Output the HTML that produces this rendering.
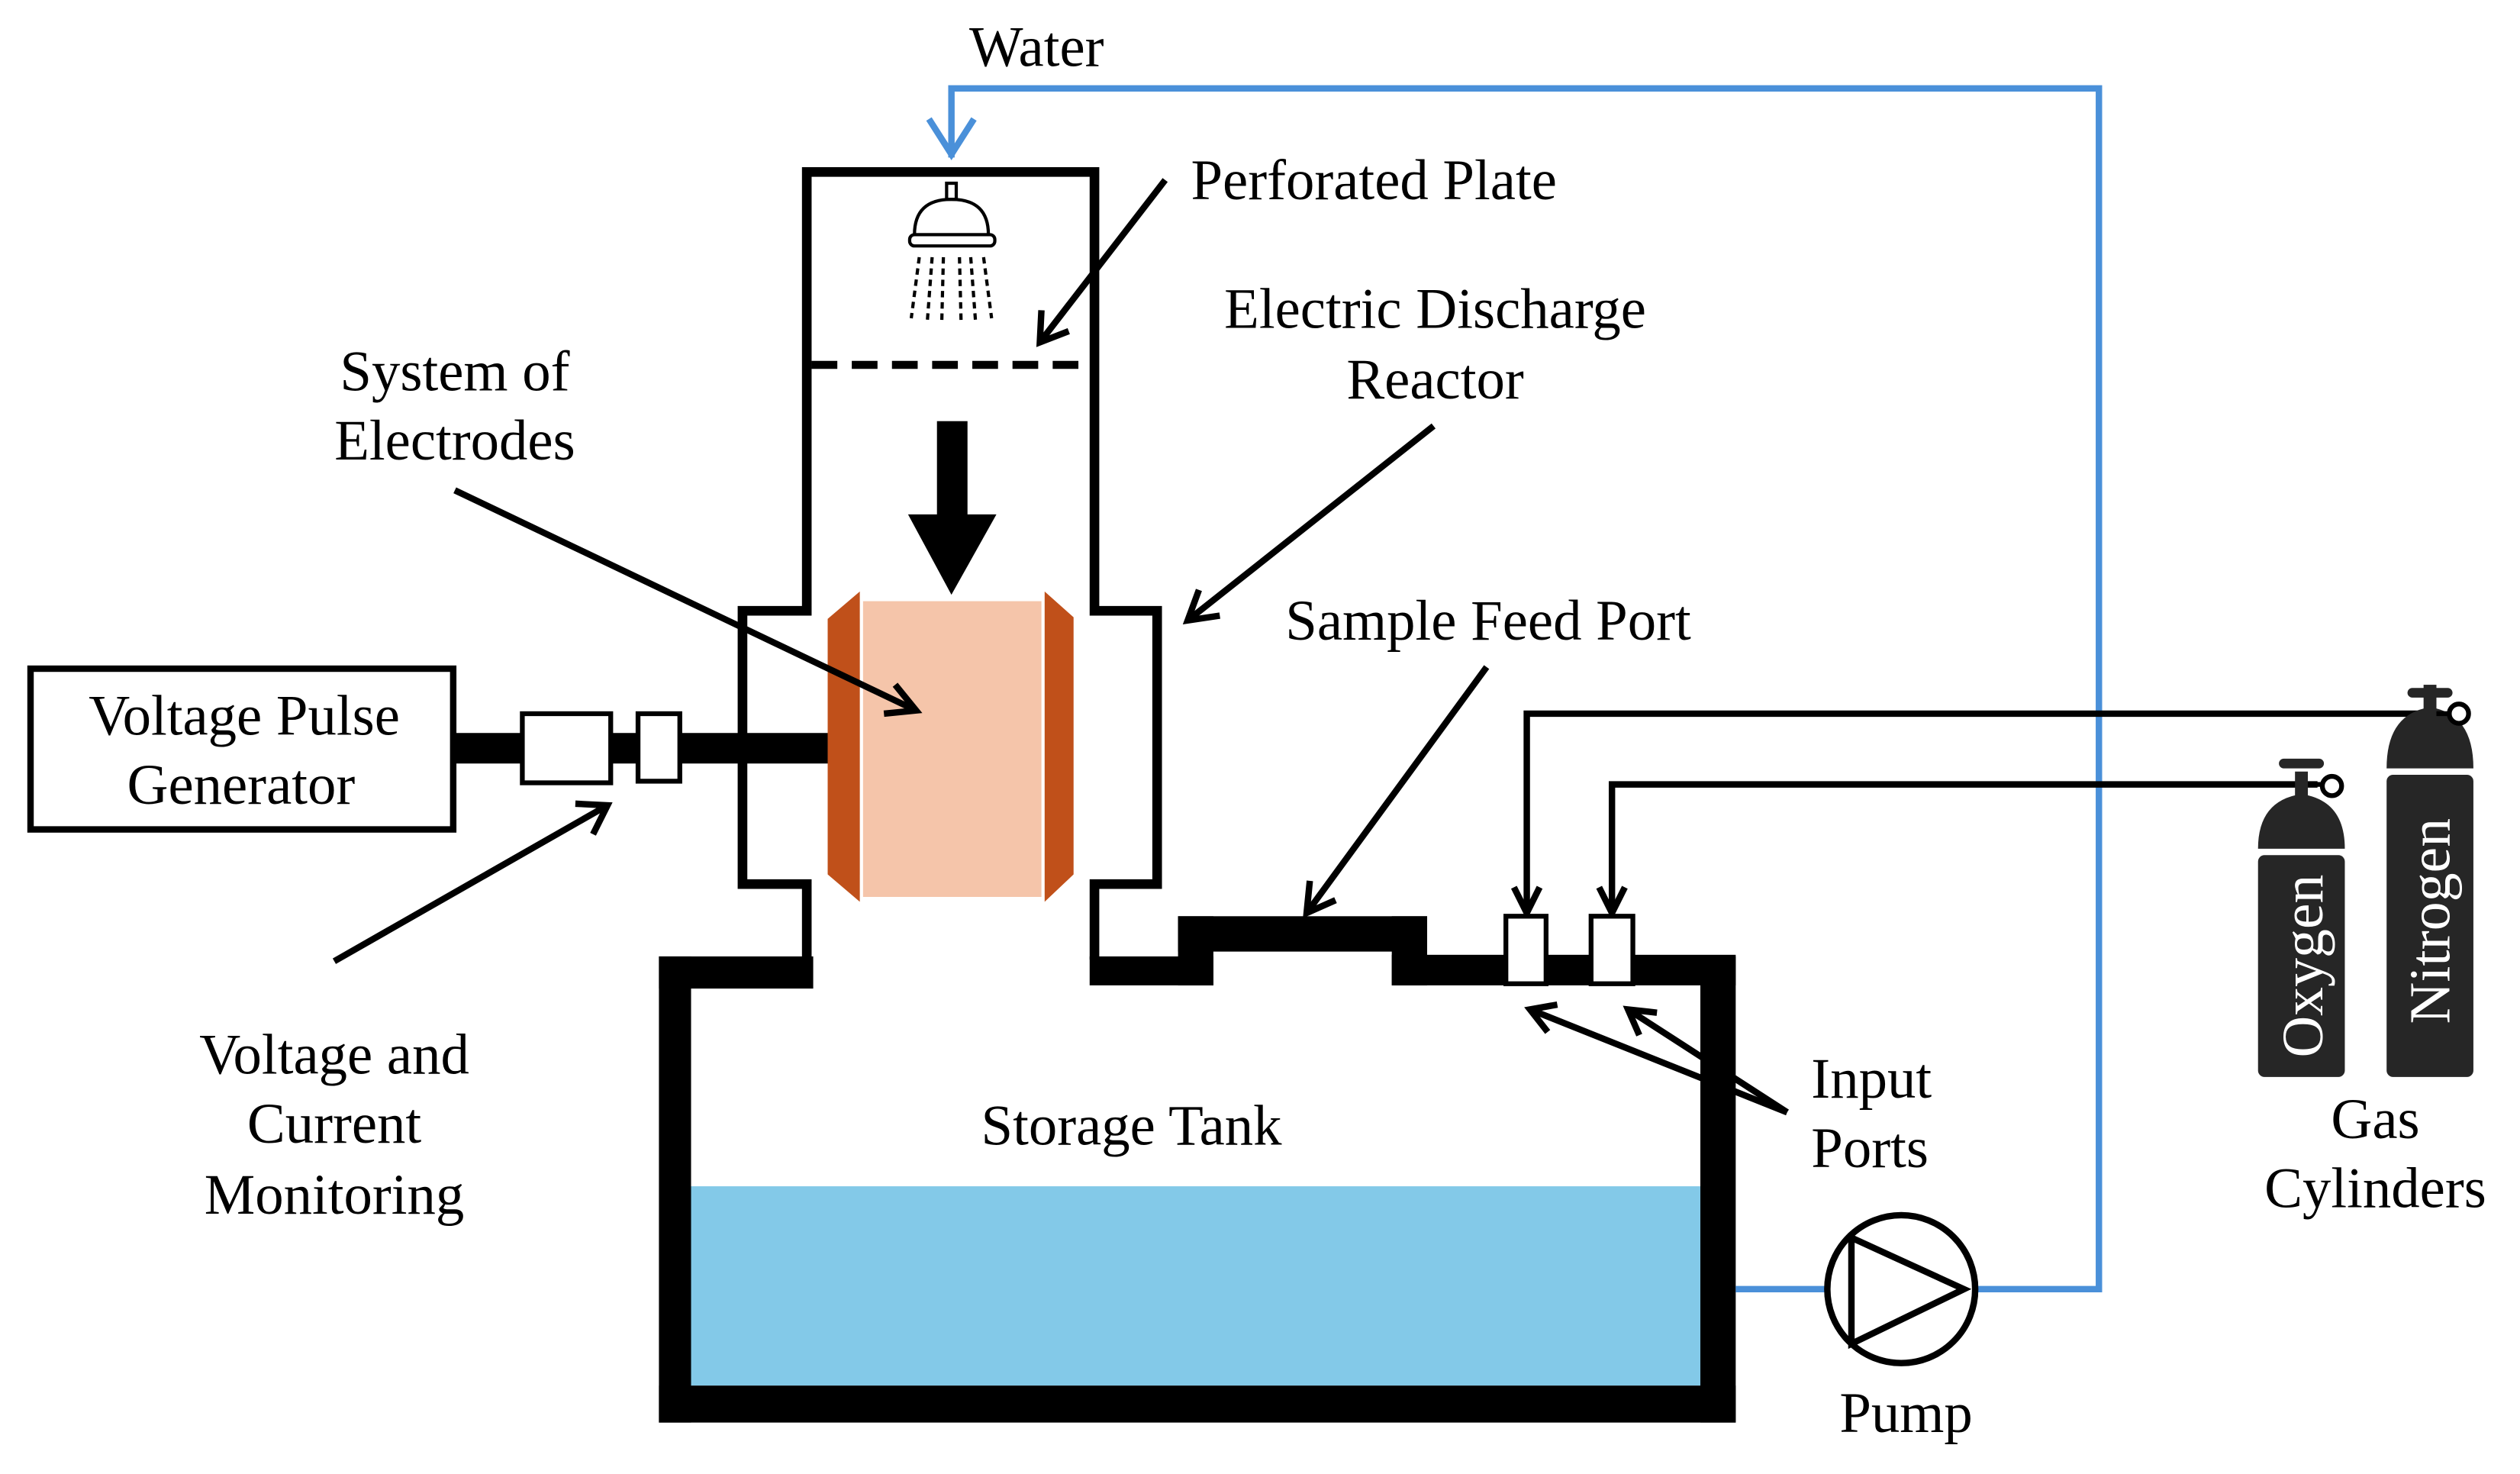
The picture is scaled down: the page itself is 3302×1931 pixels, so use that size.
<!DOCTYPE html>
<html><head><meta charset="utf-8"><style>
html,body{margin:0;padding:0;background:#fff;}
svg{display:block;}
text{font-family:"Liberation Serif",serif;font-size:35.5px;fill:#000;}
</style></head><body>
<svg width="3302" height="1931" viewBox="0 0 1568 917" preserveAspectRatio="none" xmlns="http://www.w3.org/2000/svg">
<!-- water in tank -->
<rect x="430" y="738" width="628" height="124" fill="#83C9E8"/>
<!-- tank walls -->
<g fill="#000">
<rect x="410" y="595" width="20" height="290"/>
<rect x="410" y="862" width="670" height="23"/>
<rect x="1058" y="595" width="22" height="290"/>
<rect x="410" y="595" width="96" height="20"/>
<rect x="678" y="595" width="77" height="18"/>
<rect x="733" y="570" width="155" height="22"/>
<rect x="733" y="570" width="22" height="43"/>
<rect x="866" y="570" width="22" height="43"/>
<rect x="866" y="594" width="214" height="19"/>
</g>
<!-- reactor outline -->
<path d="M502,597 V550 H462 V380 H502 V107 H681 V380 H720 V550 H681 V597" fill="none" stroke="#000" stroke-width="6"/>
<!-- perforated plate -->
<line x1="505" y1="227" x2="678" y2="227" stroke="#000" stroke-width="5" stroke-dasharray="16,9"/>
<!-- shower head -->
<g fill="none" stroke="#000" stroke-width="2">
<rect x="589" y="114" width="6" height="10" fill="#fff"/>
<path d="M569,146 Q569,124 592,124 Q615,124 615,146 Z"/>
<rect x="566" y="146" width="53" height="7" rx="3"/>
<g stroke-dasharray="4,3">
<line x1="572" y1="160" x2="567" y2="198"/><line x1="580" y1="160" x2="577" y2="200"/>
<line x1="587" y1="160" x2="586" y2="200"/><line x1="597" y1="160" x2="598" y2="200"/>
<line x1="604" y1="160" x2="607" y2="200"/><line x1="612" y1="160" x2="617" y2="198"/>
</g></g>
<!-- down arrow -->
<rect x="583" y="262" width="19" height="60" fill="#000"/>
<polygon points="565,320 620,320 592,370" fill="#000"/>
<!-- electrodes -->
<rect x="537" y="374" width="111" height="184" fill="#F5C5AA"/>
<polygon points="515,385 535,368 535,561 515,544" fill="#C0501A"/>
<polygon points="650,368 668,384 668,544 650,561" fill="#C0501A"/>
<!-- rod and boxes -->
<rect x="283" y="456" width="232" height="19" fill="#000"/>
<rect x="325" y="444" width="55" height="43" fill="#fff" stroke="#000" stroke-width="3"/>
<rect x="397" y="444" width="26" height="42" fill="#fff" stroke="#000" stroke-width="3"/>
<rect x="19" y="416" width="263" height="100" fill="#fff" stroke="#000" stroke-width="4"/>
<text x="152" y="457" text-anchor="middle">Voltage Pulse</text>
<text x="150" y="500" text-anchor="middle">Generator</text>
<!-- blue water loop -->
<polyline points="1080,802 1137,802" fill="none" stroke="#4A90D9" stroke-width="4"/>
<polyline points="1229,802 1306,802 1306,55 592,55 592,98" fill="none" stroke="#4A90D9" stroke-width="4"/>
<polyline points="578,74 592,96 606,74" fill="none" stroke="#4A90D9" stroke-width="4"/>
<text x="645" y="41" text-anchor="middle">Water</text>
<!-- pump -->
<ellipse cx="1183" cy="802" rx="46" ry="46" fill="#fff" stroke="#000" stroke-width="4"/>
<polygon points="1152,770 1152,836 1222,802" fill="none" stroke="#000" stroke-width="4"/>
<text x="1186" y="891" text-anchor="middle">Pump</text>
<!-- pointer arrows -->
<g stroke="#000" stroke-width="4" fill="none">
<line x1="208" y1="598" x2="378" y2="501"/><polyline points="358,500 378,501 369,519"/>
<line x1="283" y1="305" x2="570" y2="442"/><polyline points="557,426 570,442 550,444"/>
<line x1="725" y1="112" x2="647" y2="213"/><polyline points="648,193 647,213 665,206"/>
<line x1="892" y1="265" x2="739" y2="386"/><polyline points="746,367 739,386 759,383"/>
<line x1="925" y1="415" x2="813" y2="568"/><polyline points="815,548 813,568 831,560"/>
<line x1="1112" y1="692" x2="952" y2="628"/><polyline points="963,642 952,628 969,625"/>
<line x1="1112" y1="692" x2="1013" y2="628"/><polyline points="1020,644 1013,628 1031,630"/>
<!-- gas lines -->
<polyline points="950,568 950,444 1518,444"/>
<polyline points="1003,568 1003,488 1442,488"/>
<polyline points="942,552 950,568 958,552"/>
<polyline points="995,552 1003,568 1011,552"/>
</g>
<rect x="937" y="570" width="25" height="42" fill="#fff" stroke="#000" stroke-width="3"/>
<rect x="990" y="570" width="26" height="42" fill="#fff" stroke="#000" stroke-width="3"/>
<!-- cylinders -->
<g fill="#262626">
<path d="M1405,528 Q1405,498 1432,494 Q1459,498 1459,528 Z"/>
<rect x="1405" y="532" width="54" height="138" rx="4"/>
<rect x="1428" y="480" width="8" height="16"/>
<rect x="1418" y="472" width="28" height="6" rx="3"/>
<path d="M1485,478 Q1485,444 1512,440 Q1539,444 1539,478 Z"/>
<rect x="1485" y="482" width="54" height="188" rx="4"/>
<rect x="1508" y="426" width="8" height="16"/>
<rect x="1498" y="428" width="28" height="6" rx="3"/>
</g>
<g fill="#fff" stroke="#000" stroke-width="3">
<circle cx="1451" cy="489" r="6"/>
<circle cx="1530" cy="444" r="6"/>
</g>
<line x1="1436" y1="488" x2="1445" y2="488" stroke="#000" stroke-width="3"/>
<line x1="1516" y1="444" x2="1524" y2="444" stroke="#000" stroke-width="3"/>
<text transform="translate(1445,601) rotate(-90)" text-anchor="middle" style="fill:#fff;font-size:36px">Oxygen</text>
<text transform="translate(1524,573) rotate(-90)" text-anchor="middle" style="fill:#fff;font-size:36px">Nitrogen</text>
<!-- labels -->
<text x="741" y="124">Perforated Plate</text>
<text x="893" y="204" text-anchor="middle">Electric Discharge</text>
<text x="893" y="248" text-anchor="middle">Reactor</text>
<text x="283" y="243" text-anchor="middle">System of</text>
<text x="283" y="286" text-anchor="middle">Electrodes</text>
<text x="926" y="398" text-anchor="middle">Sample Feed Port</text>
<text x="208" y="668" text-anchor="middle">Voltage and</text>
<text x="208" y="711" text-anchor="middle">Current</text>
<text x="208" y="755" text-anchor="middle">Monitoring</text>
<text x="704" y="712" text-anchor="middle">Storage Tank</text>
<text x="1127" y="683">Input</text>
<text x="1127" y="726">Ports</text>
<text x="1478" y="708" text-anchor="middle">Gas</text>
<text x="1478" y="751" text-anchor="middle">Cylinders</text>
</svg>
</body></html>
